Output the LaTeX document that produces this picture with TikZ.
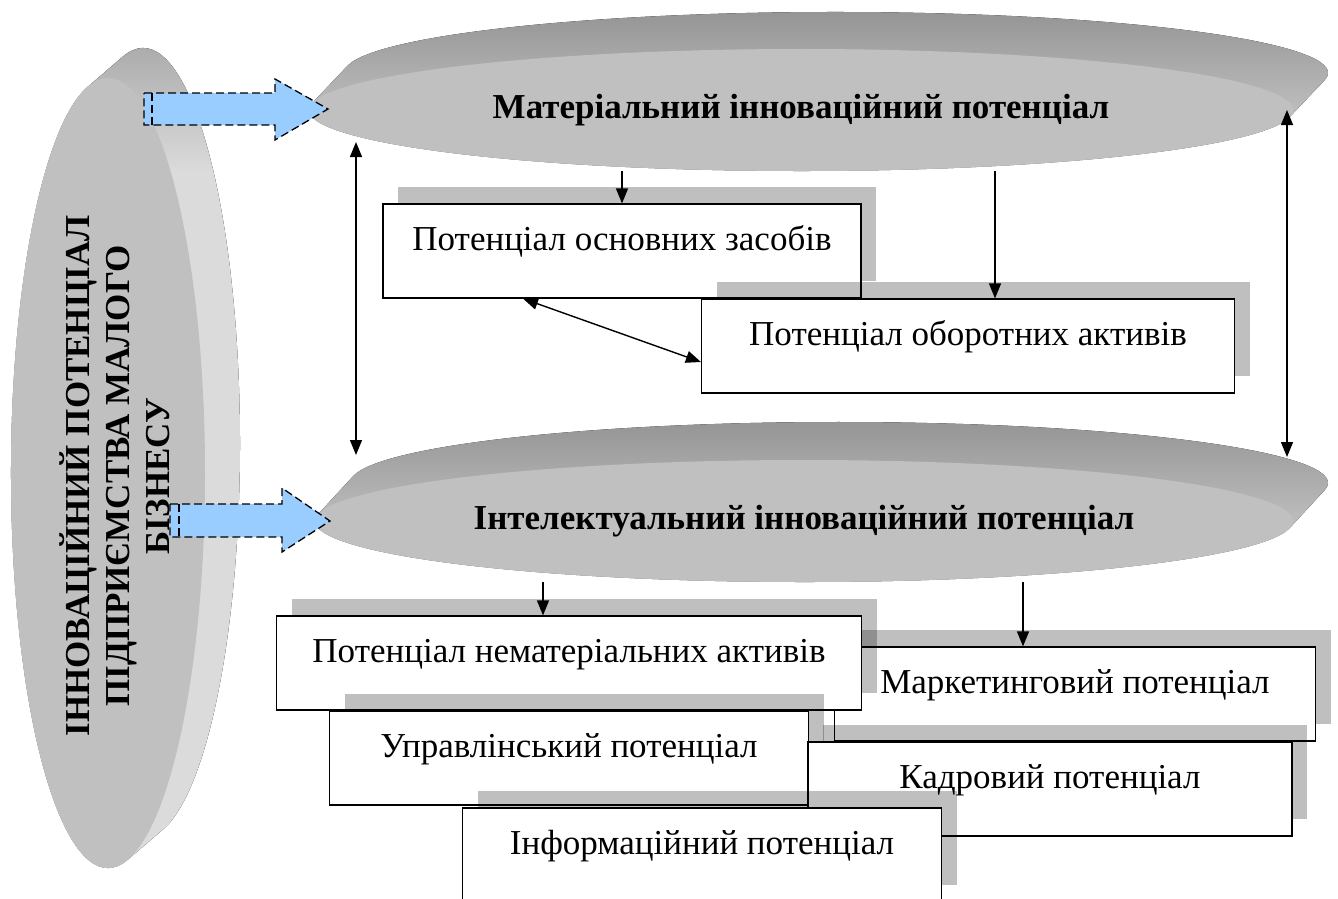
\documentclass[tikz,border=0pt]{standalone}
\usepackage{fontspec}
\setmainfont{Liberation Serif}
\usetikzlibrary{arrows.meta,shapes.geometric,shadows}

\definecolor{discgray}{HTML}{C0C0C0}
\definecolor{arrowblue}{HTML}{99CCFF}
\newcommand{\potfont}{\fontsize{35}{40}\selectfont}
\pgfdeclareverticalshading{leftside}{100bp}{color(0bp)=(black!14); color(66bp)=(black!14); color(75bp)=(black!38); color(100bp)=(black!38)}

\tikzset{
  disc/.style={ellipse, fill=discgray, inner sep=0pt, outer sep=0pt},
  discside/.style={top color=black!42, bottom color=black!16},
  pbox/.style={draw, fill=white, line width=1.2pt, minimum width=#1, inner ysep=0pt,
    text height=46pt, text depth=48pt, font=\potfont,
    drop shadow={shadow xshift=15pt, shadow yshift=17pt, fill=black, opacity=.25}},
  arr/.style={-{Triangle[length=15pt,width=12pt]}, line width=1.4pt},
  darr/.style={{Triangle[length=15pt,width=12pt]}-{Triangle[length=15pt,width=12pt]}, line width=1.4pt},
  blockarr/.style={fill=arrowblue, draw, dash pattern=on 8pt off 4pt, line width=1.3pt}
}

\begin{document}
\begin{tikzpicture}[x=1pt, y=-1pt]
    \useasboundingbox (0,0) rectangle (1338,899);
    \clip (0,0) rectangle (1338,899);

    % left disc
    \fill[shading=leftside] (162.98,829.5) arc[start angle=-78.11, end angle=101.89, x radius=97pt, y radius=395pt]
        -- (88.02,86.5) arc[start angle=101.89, end angle=281.89, x radius=97pt, y radius=395pt] -- cycle;
    \node[disc, minimum width=194pt, minimum height=790pt] (innface) at (108,473) {};
    \node[rotate=90, align=center, font=\bfseries\fontsize{35}{40}\selectfont] (inn) at (115,476)
        {ІННОВАЦІЙНИЙ ПОТЕНЦІАЛ\\ПІДПРИЄМСТВА МАЛОГО\\БІЗНЕСУ};

    % upper disc
    \fill[discside] (1324.65,80.1) arc[start angle=-6.689, end angle=173.311, x radius=492pt, y radius=61pt]
        -- (312.35,102.9) arc[start angle=173.311, end angle=353.311, x radius=492pt, y radius=61pt] -- cycle;
    \node[disc, minimum width=984pt, minimum height=122pt, font=\bfseries\potfont] (mat) at (801,110)
        {Матеріальний інноваційний потенціал};

    % lower disc
    \fill[discside] (1324.8,489.96) arc[start angle=-6.555, end angle=173.445, x radius=489pt, y radius=61pt]
        -- (318.2,514.04) arc[start angle=173.445, end angle=353.445, x radius=489pt, y radius=61pt] -- cycle;
    \node[disc, minimum width=978pt, minimum height=122pt, font=\bfseries\potfont] (intel) at (804,521)
        {Інтелектуальний інноваційний потенціал};

    % block arrows
    \draw[blockarr] (144,93) -- (275,93) -- (275,79) -- (328,109) -- (275,140) -- (275,125) -- (144,125) -- cycle;
    \draw[blockarr] (152,93) -- (152,125);
    \draw[blockarr] (170,504) -- (282,504) -- (282,488) -- (330,521) -- (282,552) -- (282,537) -- (170,537) -- cycle;
    \draw[blockarr] (179,504) -- (179,537);

    % boxes
    \node[pbox=478pt] (osn) at (622,251) {Потенціал основних засобів};
    \node[pbox=533pt] (obor) at (968,346) {Потенціал оборотних активів};
    \node[pbox=481pt] (mark) at (1075,694) {Маркетинговий потенціал};
    \node[pbox=585pt] (nemat) at (569,663) {Потенціал нематеріальних активів};
    \node[pbox=479pt] (uprav) at (569,758) {Управлінський потенціал};
    \node[pbox=484pt] (kadr) at (1050,789) {Кадровий потенціал};
    \node[pbox=479pt] (inf) at (702,855) {Інформаційний потенціал};

    % connectors
    \draw[arr] (osn.north |- mat.south) -- (osn.north);
    \coordinate (oborin) at ([xshift=27pt]obor.north);
    \draw[arr] (oborin |- mat.south) -- (oborin);
    \draw[darr] ([xshift=-99pt]osn.south) -- ([yshift=-16pt]obor.west);
    \coordinate (nematin) at ([xshift=-26pt]nemat.north);
    \draw[arr] (nematin |- intel.south) -- (nematin);
    \coordinate (markin) at ([xshift=-52pt]mark.north);
    \draw[arr] (markin |- intel.south) -- (markin);
    \coordinate (lt) at (356,142);
    \coordinate (lb) at (356,455);
    \coordinate (rt) at (1287,110);
    \coordinate (rb) at (1287,457);
    \draw[darr] (lt) -- (lb);
    \draw[darr] (rt) -- (rb);
\end{tikzpicture}
\end{document}
